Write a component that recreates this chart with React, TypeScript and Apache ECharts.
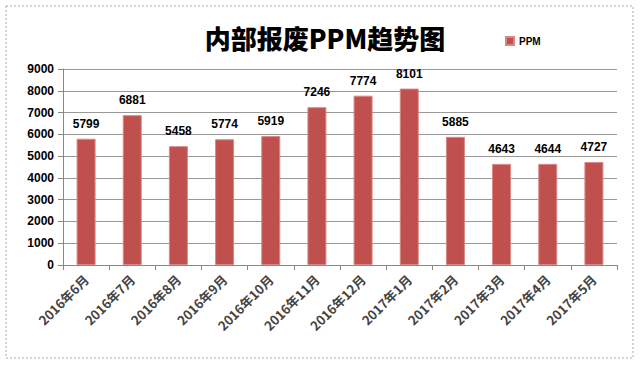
import React, { useEffect, useRef } from "react";
import * as echarts from "echarts";

const categories = ["2016年6月", "2016年7月", "2016年8月", "2016年9月", "2016年10月", "2016年11月", "2016年12月", "2017年1月", "2017年2月", "2017年3月", "2017年4月", "2017年5月"];
const ppmValues = [5799, 6881, 5458, 5774, 5919, 7246, 7774, 8101, 5885, 4643, 4644, 4727];
const yMin = 0;
const yMax = 9000;
const yInterval = 1000;

export default function App() {
  const ref = useRef<HTMLDivElement>(null);
  useEffect(() => {
    document.body.style.margin = "0";
    const chart = echarts.init(ref.current!, null, { renderer: "svg" });
    chart.setOption({
      animation: false,
      backgroundColor: "#ffffff",
      graphic: [
        {
          type: "rect",
          shape: { x: 6, y: 6, width: 627, height: 352 },
          style: { fill: "none", stroke: "#aaaaaa", lineWidth: 1, lineDash: [2, 2] },
          silent: true,
        },
      ],
      title: {
        text: "内部报废PPM趋势图",
        left: 320,
        textAlign: "center",
        top: 19,
        textStyle: { fontFamily: "Noto Sans CJK SC", fontSize: 26, fontWeight: 900, color: "#000" },
      },
      legend: {
        data: ["PPM"],
        left: 500,
        top: 31,
        itemWidth: 8,
        itemHeight: 8,
        icon: "rect",
        itemGap: 4,
        textStyle: { fontFamily: "Liberation Sans", fontSize: 10, fontWeight: "bold", color: "#000" },
      },
      grid: { left: 63, right: 23, top: 69, bottom: 104, containLabel: false },
      xAxis: {
        type: "category",
        data: categories,
        axisLine: { lineStyle: { color: "#888" } },
        axisTick: { show: true, alignWithLabel: false, length: 5, lineStyle: { color: "#888" } },
        axisLabel: {
          rotate: 45,
          interval: 0,
          fontFamily: "Noto Sans CJK SC",
          fontSize: 13,
          fontWeight: "bold",
          color: "#444",
          margin: 12,
        },
      },
      yAxis: {
        type: "value",
        min: yMin,
        max: yMax,
        interval: yInterval,
        axisLine: { show: true, lineStyle: { color: "#888" } },
        axisTick: { show: true, length: 5, lineStyle: { color: "#888" } },
        splitLine: { lineStyle: { color: "#999", width: 1 } },
        axisLabel: {
          fontFamily: "Liberation Sans",
          fontSize: 12,
          fontWeight: "bold",
          color: "#000",
          margin: 9,
          formatter: (v: number) => String(v),
        },
      },
      series: [
        {
          name: "PPM",
          type: "bar",
          data: ppmValues,
          barWidth: 19,
          itemStyle: { color: "#C0504D", borderColor: "#D88884", borderWidth: 1 },
          label: {
            show: true,
            position: "top",
            distance: 9,
            fontFamily: "Liberation Sans",
            fontSize: 12,
            fontWeight: "bold",
            color: "#000",
          },
        },
      ],
    });
    return () => chart.dispose();
  }, []);
  return <div ref={ref} style={{ width: 640, height: 369 }} />;
}
